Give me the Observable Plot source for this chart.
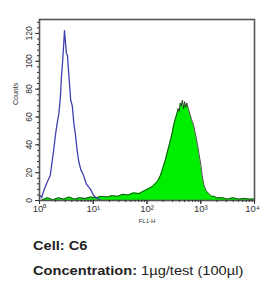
<!DOCTYPE html>
<html><head><meta charset="utf-8">
<script src="https://cdn.jsdelivr.net/npm/d3@7"></script>
<script src="https://cdn.jsdelivr.net/npm/@observablehq/plot@0.6"></script>
<style>
body{margin:0;background:#fff;font-family:"Liberation Sans",Arial,sans-serif;}
#wrap{position:relative;width:260px;height:282px;overflow:hidden;}
.cap{position:absolute;left:33px;font-size:12.5px;line-height:15px;color:#222;white-space:nowrap;transform:scaleX(1.17);transform-origin:0 0;}
</style>
</head><body>
<div id="wrap"><div id="c"></div>
<div class="cap" style="top:239px"><b>Cell: C6</b></div>
<div class="cap" style="top:264px"><b>Concentration:</b> 1µg/test (100µl)</div>
</div>
<script>
// log10(FL1-H) positions and counts
const isoLog = [0.0,0.04,0.07,0.13,0.2,0.26,0.3,0.335,0.36,0.39,0.41,0.43,0.45,0.465,0.48,0.5,0.52,0.55,0.58,0.61,0.64,0.67,0.70,0.73,0.77,0.82,0.87,0.95,1.0,1.05,1.13];
const isoCount = [4,2,6,12,18,35,48,57,62,75,90,100,112,122,115,106,104,88,72,68,55,47,36,28,22,18,12,8,4,2,0.5];

const c6Log = [0.05,0.15,0.25,0.35,0.45,0.55,0.65,0.75,0.85,0.95,1.05,1.15,1.25,1.35,1.45,1.55,1.65,1.75,1.85,1.95,2.0,2.05,2.1,2.15,2.2,2.25,2.3,2.34,2.38,2.42,2.46,2.5,2.53,2.56,2.58,2.6,2.62,2.64,2.66,2.68,2.70,2.72,2.74,2.77,2.8,2.83,2.86,2.9,2.94,2.97,3.0,3.03,3.06,3.1,3.15,3.2,3.25,3.3,3.4,3.5,3.6,3.7,3.8,3.9,4.0];
const c6Count = [0.5,2,0.5,2,1,2.5,1,2,1.5,2.5,2,3,2.5,3.5,3,4.5,4,5.5,5,7,8,9,10,12,14,18,24,29,35,41,47,55,59,63,66,64,70,68,72,66,71,67,70,66,62,58,55,48,40,33,26,17,11,7,5,3,3,2,2,1,2,1,1.5,1,1];

const yMajor = [0,20,40,60,80,100,120];
const xMajor = [1,10,100,1000,10000];
const xLabels = ["10⁰","10¹","10²","10³","10⁴"];

const iso = isoLog.map((l,i)=>({x:10**l,y:isoCount[i]}));
const c6 = c6Log.map((l,i)=>({x:10**l,y:c6Count[i]}));
const xMinor = xMajor.slice(0,-1).flatMap(d=>d3.range(2,10).map(k=>k*d));
const yMinor = d3.range(0,129,4);
const fmtX = (d)=>xLabels[xMajor.indexOf(d)];

const chart = Plot.plot({
  width:260, height:230,
  marginLeft:39, marginRight:6, marginTop:19, marginBottom:30,
  style:{fontFamily:"Liberation Sans, Arial, sans-serif", color:"#333"},
  x:{type:"log", domain:[1,10000]},
  y:{domain:[0,130]},
  marks:[
    Plot.areaY(c6,{x:"x",y:"y",fill:"#00ee00"}),
    Plot.lineY(c6,{x:"x",y:"y",stroke:"#222",strokeWidth:0.8}),
    Plot.lineY(iso,{x:"x",y:"y",stroke:"#4040b0",strokeWidth:1.3}),
    Plot.frame({stroke:"#555",strokeWidth:1.6}),
    Plot.axisY({ticks:yMinor,tickSize:2,text:null,label:null,stroke:"#333"}),
    Plot.axisY({ticks:yMajor,tickSize:4,tickRotate:-90,fontSize:8.5,label:null,stroke:"#333",tickPadding:4}),
    Plot.axisX({ticks:xMinor,tickSize:2,text:null,label:null,stroke:"#333"}),
    Plot.axisX({ticks:xMajor,tickSize:4,text:null,label:null,stroke:"#333"}),
    Plot.axisX({ticks:xMajor.slice(0,-1),tickSize:4,tickFormat:fmtX,fontSize:9.5,label:null,stroke:"#333",tickPadding:1}),
    Plot.axisX({ticks:xMajor.slice(-1),tickSize:0,tickFormat:fmtX,fontSize:9.5,label:null,tickPadding:5,dx:-2}),
    Plot.text(["FL1-H"],{frameAnchor:"bottom",dy:22,fontSize:6,fill:"#333"}),
    Plot.text(["Counts"],{frameAnchor:"left",dx:-24,dy:-5,rotate:-90,fontSize:7,fill:"#333"})
  ]
});
document.getElementById("c").append(chart);
</script>
</body></html>
